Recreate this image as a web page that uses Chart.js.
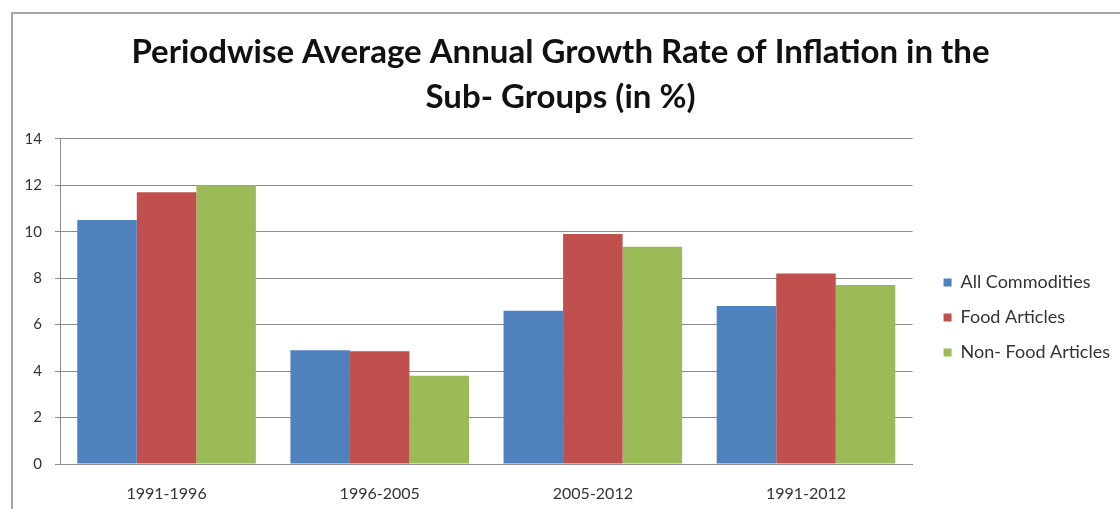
<!DOCTYPE html>
<html>
<head>
<meta charset="utf-8">
<script src="https://cdn.jsdelivr.net/npm/chart.js@4/dist/chart.umd.min.js"></script>
<style>
  html, body { margin: 0; padding: 0; background: #fff; }
  #wrap { width: 1120px; height: 509px; }
</style>
</head>
<body>
<div id="wrap"><canvas id="myChart" width="1120" height="509"></canvas></div>
<script>
const periods = ["1991-1996", "1996-2005", "2005-2012", "1991-2012"];
const allCommodities = [10.5, 4.9, 6.6, 6.8];
const foodArticles = [11.7, 4.85, 9.9, 8.2];
const nonFoodArticles = [12.0, 3.8, 9.35, 7.7];
const yTicks = [0, 2, 4, 6, 8, 10, 12, 14];

// grey frame like the chart box in the original
const framePlugin = {
  id: "frame",
  beforeDraw(chart) {
    const ctx = chart.ctx;
    ctx.save();
    ctx.strokeStyle = "#a6a6a6";
    ctx.lineWidth = 2;
    ctx.beginPath();
    ctx.moveTo(12, 509);
    ctx.lineTo(12, 13);
    ctx.lineTo(1120, 13);
    ctx.stroke();
    ctx.restore();
  },
};

// nudge the legend a bit away from the plot and down, like excel does
const legendNudge = {
  id: "legendNudge",
  afterLayout(chart) {
    const lg = chart.legend;
    if (!lg) return;
    lg.left += 14;
    lg.right += 14;
    lg.top += 16;
    lg.bottom += 16;
  },
};

function initChart(chart) {
  const data = {
    labels: periods,
    datasets: [
      { label: "All Commodities", backgroundColor: "#4F81BD", data: allCommodities },
      { label: "Food Articles", backgroundColor: "#C0504D", data: foodArticles },
      { label: "Non- Food Articles", backgroundColor: "#9BBB59", data: nonFoodArticles },
    ],
  };

  const config = {
    type: "bar",
    data: data,
    plugins: [framePlugin, legendNudge],
    options: {
      responsive: false,
      animation: false,
      layout: { padding: { top: 30, left: 15, right: 14, bottom: 8 } },
      datasets: { bar: { categoryPercentage: 0.838, barPercentage: 1.0 } },
      plugins: {
        title: {
          display: true,
          text: ["Periodwise Average Annual Growth Rate of Inflation in the", "Sub- Groups (in %)"],
          color: "#111",
          font: { family: "Lato", size: 33, weight: "bold", lineHeight: 1.36 },
          padding: { top: 0, bottom: 19 },
        },
        legend: {
          position: "right",
          fullSize: false,
          labels: {
            boxWidth: 8,
            boxHeight: 8,
            color: "#333",
            padding: 17,
            font: { family: "Lato", size: 18 },
          },
        },
        tooltip: { enabled: false },
      },
      scales: {
        x: {
          afterFit: (scale) => { scale.height = 37; },
          grid: { display: false, drawTicks: false },
          border: { color: "#8c8c8c", width: 1 },
          ticks: { color: "#333", padding: 20, font: { family: "Lato", size: 16 } },
        },
        y: {
          min: 0,
          max: 14,
          afterBuildTicks: (scale) => { scale.ticks = yTicks.map((v) => ({ value: v })); },
          afterFit: (scale) => { scale.width = 45; },
          grid: { color: "#8c8c8c", tickLength: 5 },
          border: { color: "#8c8c8c" },
          ticks: { color: "#333", padding: 13, font: { family: "Lato", size: 15 } },
        },
      },
    },
  };

  return new Chart(chart, config);
}

function mainEvent() {
  const chartTarget = document.querySelector("#myChart");
  initChart(chartTarget);
}

document.addEventListener("DOMContentLoaded", () => mainEvent());
</script>
</body>
</html>
